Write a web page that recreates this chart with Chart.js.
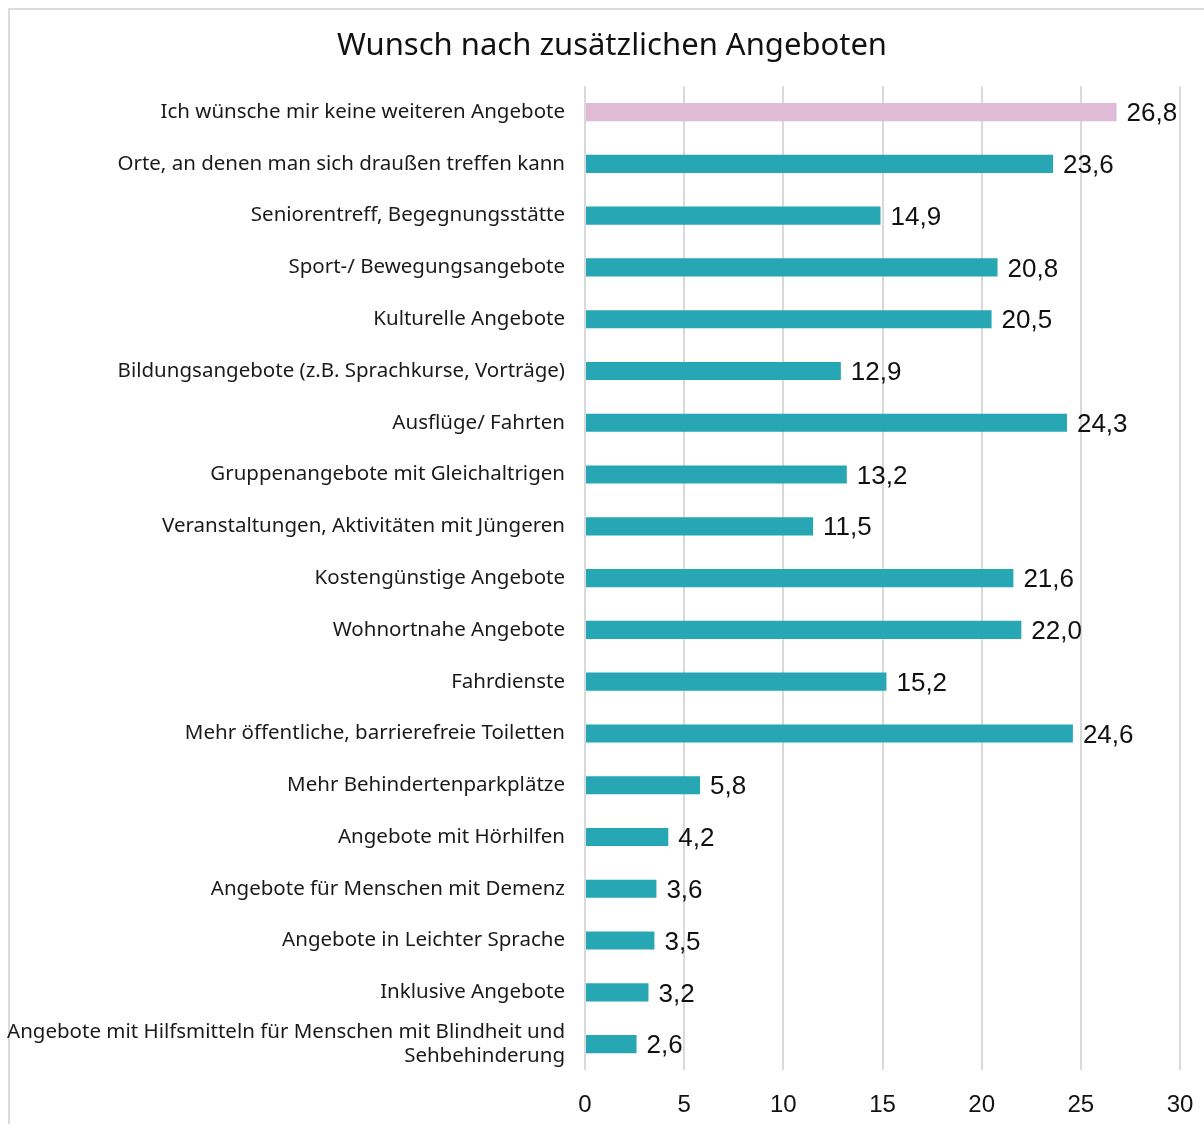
<!DOCTYPE html>
<html lang="de">
<head>
    <meta charset="UTF-8" />
    <title>Wunsch nach zusätzlichen Angeboten</title>
    <script src="https://cdn.jsdelivr.net/npm/chart.js"></script>
    <style>
        html, body { margin: 0; padding: 0; background: #fff; overflow: hidden; }
        #frame {
            position: absolute; left: 8px; top: 8px;
            width: 1300px; height: 1300px;
            border: 2px solid #dcdcdc;
        }
        #wrap { position: absolute; left: 0; top: 0; width: 1204px; height: 1124px; }
    </style>
</head>
<body>
    <div id="frame"></div>
    <div id="wrap"><canvas id="chart"></canvas></div>

    <script>
        const categories = [
            'Ich wünsche mir keine weiteren Angebote',
            'Orte, an denen man sich draußen treffen kann',
            'Seniorentreff, Begegnungsstätte',
            'Sport-/ Bewegungsangebote',
            'Kulturelle Angebote',
            'Bildungsangebote (z.B. Sprachkurse, Vorträge)',
            'Ausflüge/ Fahrten',
            'Gruppenangebote mit Gleichaltrigen',
            'Veranstaltungen, Aktivitäten mit Jüngeren',
            'Kostengünstige Angebote',
            'Wohnortnahe Angebote',
            'Fahrdienste',
            'Mehr öffentliche, barrierefreie Toiletten',
            'Mehr Behindertenparkplätze',
            'Angebote mit Hörhilfen',
            'Angebote für Menschen mit Demenz',
            'Angebote in Leichter Sprache',
            'Inklusive Angebote',
            ['Angebote mit Hilfsmitteln für Menschen mit Blindheit und', 'Sehbehinderung']
        ];
        const values = [26.8, 23.6, 14.9, 20.8, 20.5, 12.9, 24.3, 13.2, 11.5, 21.6, 22.0, 15.2, 24.6, 5.8, 4.2, 3.6, 3.5, 3.2, 2.6];
        const highlightIndex = 0;
        const teal = '#27a6b3';
        const pink = '#dfbbd7';
        const barColors = values.map((v, i) => i === highlightIndex ? pink : teal);

        // value labels at the bar ends, German decimal comma
        const valueLabels = {
            id: 'valueLabels',
            afterDatasetsDraw(chart) {
                const ctx = chart.ctx;
                const meta = chart.getDatasetMeta(0);
                ctx.save();
                ctx.font = '26px "Liberation Sans", Arial, sans-serif';
                ctx.fillStyle = '#111';
                ctx.textAlign = 'left';
                ctx.textBaseline = 'middle';
                meta.data.forEach((bar, i) => {
                    const txt = values[i].toFixed(1).replace('.', ',');
                    ctx.fillText(txt, bar.x + 10, bar.y + 2);
                });
                ctx.restore();
            }
        };

        // long category labels run past the layout padding, so don't clip them there
        const unclipLabels = {
            id: 'unclipLabels',
            afterLayout(chart) {
                chart.scales.y.left = 0;
            }
        };

        new Chart(document.getElementById('chart'), {
            type: 'bar',
            data: {
                labels: categories,
                datasets: [{
                    data: values,
                    backgroundColor: barColors,
                    barPercentage: 0.35,
                    categoryPercentage: 1
                }]
            },
            options: {
                indexAxis: 'y',
                responsive: true,
                maintainAspectRatio: false,
                animation: false,
                layout: { padding: { left: 44, right: 24, top: 12, bottom: 0 } },
                plugins: {
                    legend: { display: false },
                    tooltip: { enabled: false },
                    title: {
                        display: true,
                        text: 'Wunsch nach zusätzlichen Angeboten',
                        color: '#111',
                        font: { family: '"Noto Sans", sans-serif', size: 31, weight: 'normal' },
                        padding: { top: 16, bottom: 21 }
                    }
                },
                scales: {
                    x: {
                        min: 0,
                        max: 30,
                        ticks: {
                            stepSize: 5,
                            color: '#111',
                            padding: 21,
                            font: { family: '"Liberation Sans", Arial, sans-serif', size: 24 }
                        },
                        grid: { color: '#d9d9d9', lineWidth: 2, drawTicks: false },
                        border: { display: false },
                        afterFit(scale) {
                            scale.height = 54;
                            scale.paddingLeft = 0;
                            scale.paddingRight = 0;
                        }
                    },
                    y: {
                        ticks: {
                            autoSkip: false,
                            color: '#1a1a1a',
                            padding: 20,
                            font: { family: '"Noto Sans", sans-serif', size: 20.5 }
                        },
                        grid: { display: false, drawTicks: false },
                        border: { display: false },
                        afterFit(scale) { scale.width = 541; }
                    }
                }
            },
            plugins: [valueLabels, unclipLabels]
        });
    </script>
</body>
</html>
